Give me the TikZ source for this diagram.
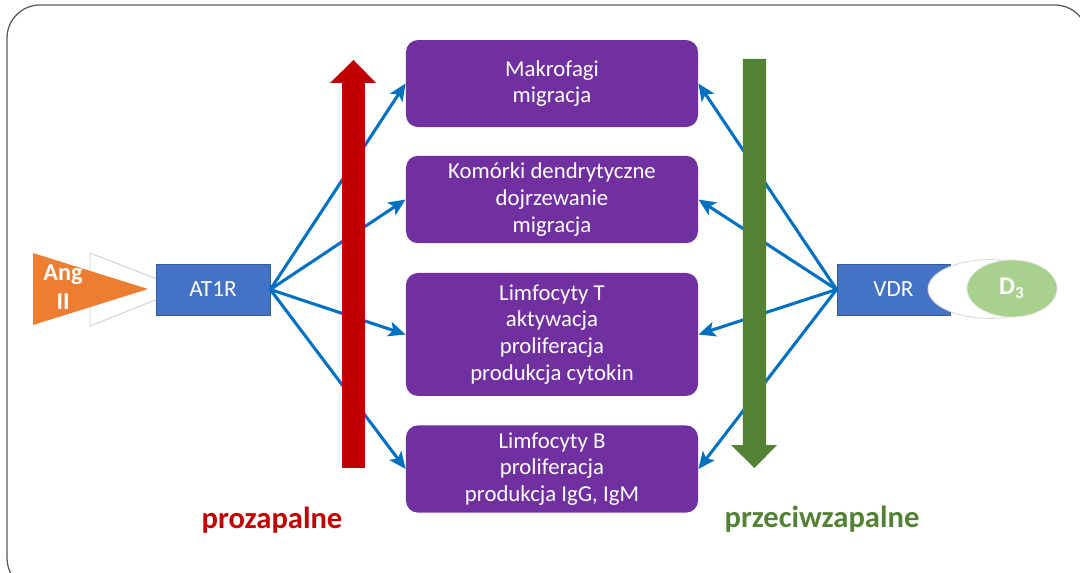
\documentclass[tikz,border=0pt]{standalone}
\usepackage{fontspec}
\setmainfont{Carlito}
\usepackage{xcolor}
\usetikzlibrary{arrows.meta,shapes.geometric}

\definecolor{fiolet}{HTML}{7030A0}
\definecolor{niebieski}{HTML}{4472C4}
\definecolor{strzalka}{HTML}{0070C0}
\definecolor{czerwony}{HTML}{C00000}
\definecolor{zielony}{HTML}{548235}
\definecolor{jasnyziel}{HTML}{A9D18E}
\definecolor{pomarancz}{HTML}{ED7D31}

\tikzset{
  cell/.style={rectangle, rounded corners=0.2cm, fill=fiolet, text=white,
    minimum width=4.867cm, align=center, font=\fontsize{10.8}{12.7}\selectfont},
  receptor/.style={rectangle, fill=niebieski, draw=niebieski!80!black, line width=0.3pt,
    text=white, minimum height=0.85cm, font=\fontsize{11}{13}\selectfont},
  link/.style={strzalka, line width=1.45pt, -{Stealth[length=8pt, width=7pt, inset=1.8pt]}}
}

\begin{document}
\begin{tikzpicture}
                    \useasboundingbox (0,0) rectangle (18,9.55);
                    \begin{scope}
                    \clip (0,0) rectangle (18,9.55);
                    \draw[gray!70!black, line width=0.6pt, rounded corners=0.55cm]
                        (0.117,-0.3) rectangle (18.13,9.467);
                    \end{scope}

                    % Ang II i receptor AT1R
                    \draw[gray!40, line width=0.4pt, fill=white] (1.5,5.333) -- (3.05,4.733) -- (1.5,4.117) -- cycle;
                    \fill[pomarancz] (0.55,5.333) -- (2.467,4.733) -- (0.55,4.133) -- cycle;
                    \node[text=white, align=center, font=\fontsize{11.5}{14}\selectfont\bfseries] (ang) at (1.05,4.767) {Ang\\II};
                    \node[receptor, minimum width=1.9cm] (at1r) at (3.55,4.725) {AT1R};

                    % VDR i D3
                    \node[receptor, minimum width=1.883cm] (vdr) at (14.89,4.725) {VDR};
                    \draw[gray!30, line width=0.4pt, fill=white] (16.5,4.733) ellipse (1.033cm and 0.49cm);
                    \node[ellipse, fill=jasnyziel, draw=gray!20, line width=0.3pt, minimum width=1.5cm, minimum height=0.95cm,
                          text=white, font=\fontsize{12}{14}\selectfont\bfseries, inner sep=0pt]
                          (d3) at (16.867,4.742) {D$_{\mathbf{3}}$};

                    % komorki
                    \node[cell, minimum height=1.45cm] (makro) at (9.2,8.158) {Makrofagi\\migracja};
                    \node[cell, minimum height=1.417cm] (dend) at (9.2,6.225) {Komórki dendrytyczne\\dojrzewanie\\migracja};
                    \node[cell, minimum height=2.05cm] (limt) at (9.2,3.975) {Limfocyty T\\aktywacja\\proliferacja\\produkcja cytokin};
                    \node[cell, minimum height=1.433cm] (limb) at (9.2,1.733) {Limfocyty B\\proliferacja\\produkcja IgG, IgM};

                    \draw[link] (at1r.east) -- (makro.west);
                    \draw[link] (at1r.east) -- (dend.west);
                    \draw[link] (at1r.east) -- (limt.west);
                    \draw[link] (at1r.east) -- (limb.west);
                    \draw[link] (vdr.west) -- (makro.east);
                    \draw[link] (vdr.west) -- (dend.east);
                    \draw[link] (vdr.west) -- (limt.east);
                    \draw[link] (vdr.west) -- (limb.east);

                    % duze strzalki
                    \fill[czerwony] (5.7,1.75) -- (5.7,8.167) -- (5.5,8.167) -- (5.892,8.55)
                        -- (6.267,8.167) -- (6.083,8.167) -- (6.083,1.75) -- cycle;
                    \fill[zielony] (12.383,8.567) -- (12.383,2.133) -- (12.183,2.133) -- (12.575,1.75)
                        -- (12.95,2.133) -- (12.767,2.133) -- (12.767,8.567) -- cycle;

                    \node[text=czerwony, font=\fontsize{14.5}{16}\selectfont\bfseries] (pro) at (4.533,0.883) {prozapalne};
                    \node[text=zielony, font=\fontsize{14.5}{16}\selectfont\bfseries] (przeciw) at (13.7,0.9) {przeciwzapalne};
                \end{tikzpicture}
\end{document}
